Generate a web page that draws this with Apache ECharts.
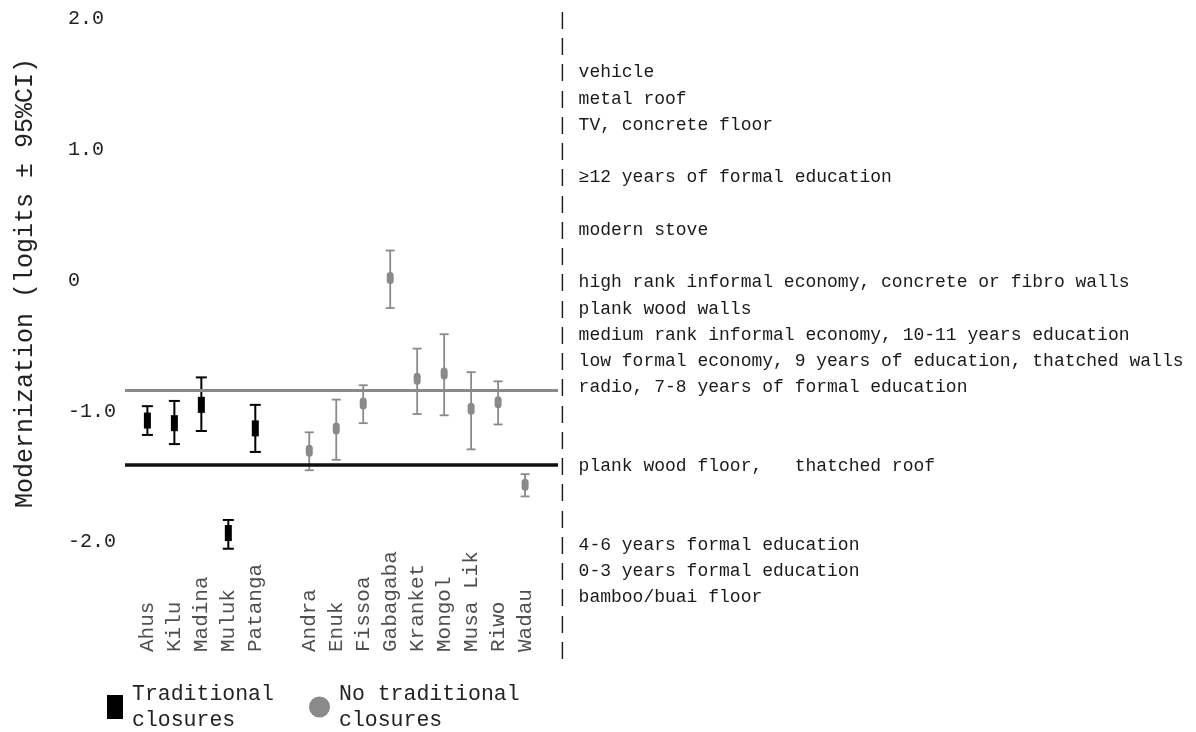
<!DOCTYPE html>
<html>
<head>
<meta charset="utf-8">
<script src="https://cdn.jsdelivr.net/npm/echarts@6/dist/echarts.min.js"></script>
<style>
  html, body { margin: 0; padding: 0; background: #fff; }
  #chart { width: 1196px; height: 732px; }
</style>
</head>
<body>
<div id="chart"></div>
<script>
// Villages with traditional closures (black) and without (grey)
const tradVillages = ['Ahus', 'Kilu', 'Madina', 'Muluk', 'Patanga'];
const tradEst  = [-1.07, -1.09, -0.95, -1.93, -1.13];
const tradLow  = [-1.18, -1.25, -1.15, -2.05, -1.31];
const tradHigh = [-0.96, -0.92, -0.74, -1.83, -0.95];

const openVillages = ['Andra', 'Enuk', 'Fissoa', 'Gabagaba', 'Kranket', 'Mongol', 'Musa Lik', 'Riwo', 'Wadau'];
const openEst  = [-1.30, -1.13, -0.94, 0.02, -0.75, -0.71, -0.98, -0.93, -1.56];
const openLow  = [-1.45, -1.37, -1.09, -0.21, -1.02, -1.03, -1.29, -1.10, -1.65];
const openHigh = [-1.16, -0.91, -0.80, 0.23, -0.52, -0.41, -0.70, -0.77, -1.48];

// Group reference levels
const noClosureLevel = -0.84;
const closureLevel = -1.41;

// Item ladder printed beside the scale, one row per line from top to bottom
const ladderRows = [
  '', '', 'vehicle', 'metal roof', 'TV, concrete floor', '',
  '\u226512 years of formal education', '', 'modern stove', '',
  'high rank informal economy, concrete or fibro walls',
  'plank wood walls',
  'medium rank informal economy, 10-11 years education',
  'low formal economy, 9 years of education, thatched walls',
  'radio, 7-8 years of formal education', '', '',
  'plank wood floor,   thatched roof', '', '',
  '4-6 years formal education', '0-3 years formal education',
  'bamboo/buai floor', '', ''
];

const yTitle = 'Modernization (logits \u00b1 95%CI)';
const tradName = 'Traditional\nclosures';
const openName = 'No traditional\nclosures';

// slot positions along x: traditional villages first, one empty slot, then the rest
const tradSlots = tradVillages.map((_, i) => i);
const openSlots = openVillages.map((_, i) => i + tradVillages.length + 1);
const nameBase = -2.84;

const MONO = '"Liberation Mono", "DejaVu Sans Mono", monospace';
const GREY = '#8a8a8a';

function errorBar(color, mw, mh, mr, lw, cw) {
  return function (params, api) {
    const x = api.value(0);
    const c = api.coord([x, api.value(1)]);
    const lo = api.coord([x, api.value(2)]);
    const hi = api.coord([x, api.value(3)]);
    const st = { stroke: color, lineWidth: lw };
    return {
      type: 'group',
      children: [
        { type: 'line', shape: { x1: c[0], y1: hi[1], x2: c[0], y2: lo[1] }, style: st },
        { type: 'line', shape: { x1: c[0] - cw / 2, y1: hi[1], x2: c[0] + cw / 2, y2: hi[1] }, style: st },
        { type: 'line', shape: { x1: c[0] - cw / 2, y1: lo[1], x2: c[0] + cw / 2, y2: lo[1] }, style: st },
        { type: 'rect', shape: { x: c[0] - mw / 2, y: c[1] - mh / 2, width: mw, height: mh, r: mr }, style: { fill: color } }
      ]
    };
  };
}

const chart = echarts.init(document.getElementById('chart'), null, { renderer: 'canvas' });

chart.setOption({
  animation: false,
  backgroundColor: '#fff',
  title: {
    text: ladderRows.map(s => '| ' + s).join('\n'),
    left: 557,
    top: 7,
    padding: 0,
    textStyle: { fontFamily: MONO, fontSize: 18, lineHeight: 26.25, fontWeight: 'normal', color: '#1a1a1a' }
  },
  legend: [
    {
      data: [{ name: tradName, icon: 'rect', itemStyle: { color: '#000' } }],
      left: 107, top: 681, padding: 0, itemWidth: 16, itemHeight: 24, selectedMode: false,
      textStyle: { fontFamily: MONO, fontSize: 21.5, lineHeight: 26, color: '#222', padding: [0, 0, 0, 4] }
    },
    {
      data: [{ name: openName, icon: 'circle', itemStyle: { color: GREY } }],
      left: 309, top: 681, padding: 0, itemWidth: 21, itemHeight: 21, selectedMode: false,
      textStyle: { fontFamily: MONO, fontSize: 21.5, lineHeight: 26, color: '#222', padding: [0, 0, 0, 4] }
    }
  ],
  graphic: [{
    type: 'text', x: 25, y: 283, rotation: Math.PI / 2,
    style: { text: yTitle, fontFamily: MONO, fontSize: 25, fill: '#222', align: 'center', verticalAlign: 'middle' }
  }],
  grid: { left: 125, width: 433, top: 19, bottom: 59 },
  xAxis: {
    type: 'value', min: -0.83, max: 15.22,
    axisLine: { show: false }, axisTick: { show: false }, axisLabel: { show: false }, splitLine: { show: false }
  },
  yAxis: {
    type: 'value', min: -3, max: 2, interval: 1,
    axisLine: { show: false }, axisTick: { show: false }, splitLine: { show: false },
    axisLabel: {
      align: 'left', margin: 57, fontFamily: MONO, fontSize: 20, color: '#222',
      formatter: v => (v === -3 ? '' : v === 0 ? '0' : v.toFixed(1))
    }
  },
  series: [
    {
      type: 'scatter', name: 'names', symbolSize: 0, silent: true,
      data: tradVillages.map((n, i) => ({ name: n, value: [tradSlots[i], nameBase] }))
        .concat(openVillages.map((n, i) => ({ name: n, value: [openSlots[i], nameBase] }))),
      label: {
        show: true, formatter: '{b}', position: 'inside', rotate: 90,
        align: 'left', verticalAlign: 'middle',
        fontFamily: MONO, fontSize: 21, color: '#222'
      },
      markLine: {
        silent: true, symbol: 'none', label: { show: false },
        data: [
          { yAxis: noClosureLevel, lineStyle: { color: GREY, width: 3, type: 'solid' } },
          { yAxis: closureLevel, lineStyle: { color: '#111', width: 3.5, type: 'solid' } }
        ]
      }
    },
    {
      type: 'custom', name: tradName, itemStyle: { color: '#000' },
      renderItem: errorBar('#000', 7, 16, 0, 2, 11),
      encode: { x: 0, y: 1 },
      data: tradVillages.map((_, i) => [tradSlots[i], tradEst[i], tradLow[i], tradHigh[i]]),
      z: 3
    },
    {
      type: 'custom', name: openName, itemStyle: { color: GREY },
      renderItem: errorBar(GREY, 7, 12, 3.5, 1.8, 9),
      encode: { x: 0, y: 1 },
      data: openVillages.map((_, i) => [openSlots[i], openEst[i], openLow[i], openHigh[i]]),
      z: 3
    }
  ]
});
</script>
</body>
</html>
